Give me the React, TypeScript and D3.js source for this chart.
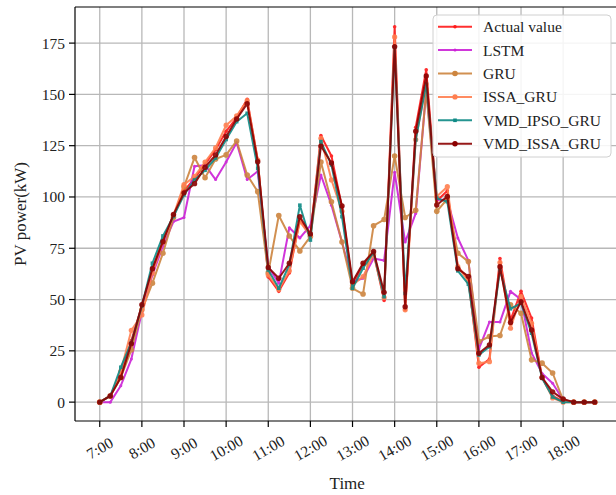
import React from 'react';
import * as d3 from 'd3';

// Hourly tick labels (one tick every 4 samples, 15-minute sampling)
const hourLabels = ['7:00', '8:00', '9:00', '10:00', '11:00', '12:00', '13:00', '14:00', '15:00', '16:00', '17:00', '18:00'];
const yTicks = [0, 25, 50, 75, 100, 125, 150, 175];

// PV power (kW), 48 samples from 7:00 to 18:45
const actualValue = [0, 3, 14, 30, 47, 65, 79, 91, 103, 109, 116, 123, 132, 138.7, 147.6, 118, 61, 54, 63, 89, 81, 130, 120, 95, 57, 67, 73, 49.5, 183, 45, 134, 162, 98, 103, 66, 60, 17, 21, 70, 40, 54, 41, 12, 3, 0.5, 0, 0, 0];
const lstm = [0, 0, 8, 21, 44, 62, 76, 88, 90, 115, 115.5, 108.5, 117, 126.5, 108.5, 112.5, 66, 58, 85, 80, 86, 110.7, 96, 78, 58.7, 60.4, 70, 69, 112, 78, 92, 152, 98.6, 98.6, 80, 69, 26, 39, 39, 54, 50, 24, 14, 9.2, 1, 0, 0, 0];
const gru = [0, 3, 12, 25.5, 45, 58, 72.6, 90, 105, 119.2, 109.4, 118.5, 120.5, 127.3, 110.7, 102.6, 63, 91, 81, 73.7, 80.7, 117, 97.7, 78, 55.5, 52.7, 86, 89, 120, 90, 93.5, 152, 93, 99, 72.6, 68.5, 29.5, 32, 32.5, 47.4, 43.3, 20.6, 19, 14.2, 1, 0, 0, 0];
const issaGru = [0, 3, 15, 35, 42.5, 63, 78, 91, 106, 110, 117, 124, 135, 139.5, 147, 118, 62, 55, 64, 88, 81, 128.6, 108.3, 93, 57, 61.2, 72, 51, 178, 45, 128, 155, 100.2, 105, 66, 59, 19, 19.7, 68, 36, 51.4, 38.4, 12, 2, 0, 0, 0, 0];
const vmdIpsoGru = [0, 3, 17, 29, 47, 67.7, 81, 90.5, 101, 108.3, 113, 119, 128, 136.7, 140.8, 114, 64.4, 55.5, 67, 96, 79, 127, 115.6, 90.4, 55.5, 65.3, 73, 51.4, 173, 53, 127.8, 155, 99.4, 97.7, 64, 57.5, 23, 27, 64.4, 45.5, 48.2, 33.6, 11.6, 2.5, 0, 0, 0, 0];
const vmdIssaGru = [0, 3, 12, 28.5, 47.5, 65, 78.2, 91.5, 102, 106.5, 114.5, 120.5, 129.5, 138, 145.5, 117.2, 65.6, 60.4, 67.7, 90.4, 82, 124.8, 116.6, 95.6, 58.7, 67.7, 73.4, 53.5, 173.3, 46.5, 132, 159, 96.1, 100.2, 65, 61.3, 23.8, 27.9, 66, 38.8, 49, 35.2, 12, 5, 1.5, 0, 0, 0];

const seriesNames = ['Actual value', 'LSTM', 'GRU', 'ISSA_GRU', 'VMD_IPSO_GRU', 'VMD_ISSA_GRU'];
const seriesValues = [actualValue, lstm, gru, issaGru, vmdIpsoGru, vmdIssaGru];
const seriesColors = ['#ff1a1a', '#cc22d6', '#cd853f', '#ff7f50', '#0e8a86', '#8b0000'];
const markerKind = ['dot', 'dot', 'circle', 'circle', 'square', 'circle'];
const markerSize = [1.8, 1.5, 2.8, 2.6, 1.8, 2.7];

const W = 616;
const H = 495;
const FONT = '"Liberation Serif", "Times New Roman", serif';

export default function App() {
  const n = actualValue.length;
  const x = d3.scaleLinear().domain([-2.35, n - 1 + 2.35]).range([75, 619.5]);
  const y = d3.scaleLinear().domain([-9.2, 192.6]).range([421, 7]);
  const left = x.range()[0];
  const right = x.range()[1];
  const top = y.range()[1];
  const bottom = y.range()[0];

  const line = d3
    .line<number>()
    .x((_, i) => x(i))
    .y((d) => y(d));

  const hourIdx = hourLabels.map((_, i) => i * 4);

  const legendX = 433;
  const legendY = 15;
  const rowH = 23.4;

  const drawMarker = (k: number, cx: number, cy: number, key: string) => {
    const c = seriesColors[k];
    const r = markerSize[k];
    if (markerKind[k] === 'square') {
      return <rect key={key} x={cx - r} y={cy - r} width={r * 2} height={r * 2} fill={c} />;
    }
    return <circle key={key} cx={cx} cy={cy} r={r} fill={c} />;
  };

  return (
    <svg
      width={W}
      height={H}
      style={{ position: 'absolute', left: 0, top: 0, background: '#fff' }}
      fontFamily={FONT}
    >
      <rect x={0} y={0} width={W} height={H} fill="#fff" />
      <defs>
        <clipPath id="plotClip">
          <rect x={left} y={top} width={right - left} height={bottom - top} />
        </clipPath>
      </defs>

      {/* grid */}
      <g stroke="#b8b8b8" strokeWidth={1.3}>
        {hourIdx.map((i) => (
          <line key={'vg' + i} x1={x(i)} x2={x(i)} y1={top} y2={bottom} />
        ))}
        {yTicks.map((t) => (
          <line key={'hg' + t} x1={left} x2={right} y1={y(t)} y2={y(t)} />
        ))}
      </g>

      {/* series */}
      <g clipPath="url(#plotClip)">
        {seriesValues.map((vals, k) => (
          <g key={seriesNames[k]} opacity={0.9}>
            <path d={line(vals) || ''} fill="none" stroke={seriesColors[k]} strokeWidth={2} strokeLinejoin="round" />
            {vals.map((v, i) => drawMarker(k, x(i), y(v), seriesNames[k] + i))}
          </g>
        ))}
      </g>

      {/* spines */}
      <g stroke="#000" strokeWidth={1.2} fill="none">
        <line x1={left} x2={left} y1={top} y2={bottom} />
        <line x1={left} x2={right} y1={bottom} y2={bottom} />
        <line x1={left} x2={right} y1={top} y2={top} />
        <line x1={right} x2={right} y1={top} y2={bottom} />
      </g>

      {/* y axis */}
      {yTicks.map((t) => (
        <g key={'yt' + t}>
          <line x1={left - 6} x2={left} y1={y(t)} y2={y(t)} stroke="#000" strokeWidth={1.2} />
          <text x={left - 10} y={y(t)} textAnchor="end" dominantBaseline="central" fontSize={15.5} fill="#222">
            {t}
          </text>
        </g>
      ))}

      {/* x axis */}
      {hourIdx.map((i, j) => {
        const tx = x(i);
        const ty = 448;
        return (
          <g key={'xt' + i}>
            <line x1={tx} x2={tx} y1={bottom} y2={bottom + 6} stroke="#000" strokeWidth={1.2} />
            <text
              x={tx}
              y={ty}
              textAnchor="middle"
              dominantBaseline="central"
              fontSize={15.5}
              fill="#222"
              transform={`rotate(-30, ${tx}, ${ty})`}
            >
              {hourLabels[j]}
            </text>
          </g>
        );
      })}

      {/* axis titles */}
      <text x={(left + right) / 2} y={483} textAnchor="middle" dominantBaseline="central" fontSize={17} fill="#222">
        Time
      </text>
      <text
        x={20}
        y={(top + bottom) / 2}
        textAnchor="middle"
        dominantBaseline="central"
        fontSize={17}
        fill="#222"
        transform={`rotate(-90, 20, ${(top + bottom) / 2})`}
      >
        PV power(kW)
      </text>

      {/* legend */}
      <g>
        <rect
          x={legendX}
          y={legendY}
          width={178}
          height={142}
          rx={4}
          fill="#fff"
          fillOpacity={0.85}
          stroke="#d0d0d0"
          strokeWidth={1}
        />
        {seriesNames.map((name, k) => {
          const cy = legendY + 11.7 + k * rowH;
          return (
            <g key={'lg' + name}>
              <line x1={438} x2={472} y1={cy} y2={cy} stroke={seriesColors[k]} strokeWidth={2} opacity={0.9} />
              {drawMarker(k, 455, cy, 'lm' + k)}
              <text x={483} y={cy} dominantBaseline="central" fontSize={15.5} fill="#222">
                {name}
              </text>
            </g>
          );
        })}
      </g>
    </svg>
  );
}
